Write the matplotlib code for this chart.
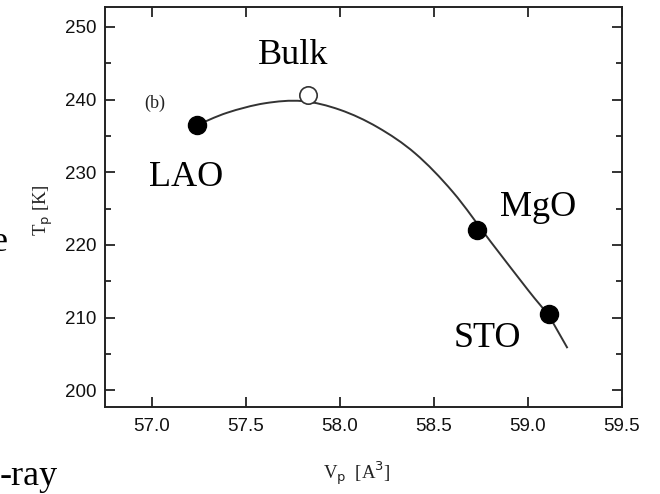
import matplotlib
matplotlib.use("Agg")
import matplotlib.pyplot as plt
from matplotlib.ticker import MultipleLocator
from matplotlib.path import Path
from matplotlib.patches import PathPatch

# Data
substrates = ["LAO", "MgO", "STO"]
film_vp = [57.24, 58.73, 59.11]
film_tp = [236.5, 222.1, 210.5]
bulk_vp = [57.83]
bulk_tp = [240.6]

# Guide curve
curve_vp = [57.24, 57.40, 57.60, 57.80, 58.00, 58.20, 58.40, 58.60, 58.80, 59.00, 59.11, 59.21]
curve_tp = [236.5, 238.2, 239.5, 239.8, 238.6, 236.2, 232.6, 227.3, 220.5, 213.8, 210.2, 205.8]

x_ticks = [57.0, 57.5, 58.0, 58.5, 59.0, 59.5]
y_ticks = [200, 210, 220, 230, 240, 250]

fig = plt.figure(figsize=(6.6, 4.94), dpi=100)
ax = fig.add_axes([105/660, 1 - 407/494, (622 - 105)/660, (407 - 7)/494])

# smooth guide curve drawn as Bezier segments through the read points
pts = list(zip(curve_vp, curve_tp))
verts = [pts[0]]
codes = [Path.MOVETO]
n = len(pts)
for i in range(n - 1):
    p0 = pts[i - 1] if i > 0 else pts[i]
    p1 = pts[i]
    p2 = pts[i + 1]
    p3 = pts[i + 2] if i + 2 < n else pts[i + 1]
    c1 = (p1[0] + (p2[0] - p0[0]) / 6, p1[1] + (p2[1] - p0[1]) / 6)
    c2 = (p2[0] - (p3[0] - p1[0]) / 6, p2[1] - (p3[1] - p1[1]) / 6)
    verts += [c1, c2, p2]
    codes += [Path.CURVE4] * 3
ax.add_patch(PathPatch(Path(verts, codes), fill=False, edgecolor="#333333", lw=1.4, zorder=2))

ax.plot(film_vp, film_tp, "o", ms=13, color="black", zorder=3)
ax.plot(bulk_vp, bulk_tp, "o", ms=12.5, mfc="white", mec="#333333", mew=1.2, zorder=3)

ax.set_xlim(56.75, 59.5)
ax.set_ylim(197.7, 252.75)
ax.set_xticks(x_ticks)
ax.set_yticks(y_ticks)
ax.yaxis.set_minor_locator(MultipleLocator(5))
ax.set_xticklabels([f"{v:.1f}" for v in x_ticks])
ax.set_yticklabels([str(v) for v in y_ticks])
ax.tick_params(axis="both", which="both", direction="in", top=True, right=True,
               labelsize=13.5, width=1.2, colors="#111111")
ax.tick_params(axis="both", which="major", length=7)
ax.tick_params(axis="both", which="minor", length=4)
for lab in ax.get_xticklabels() + ax.get_yticklabels():
    lab.set_family("Liberation Sans")
ax.tick_params(axis="x", pad=8)
ax.tick_params(axis="y", pad=6)
for s in ax.spines.values():
    s.set_linewidth(1.4)
    s.set_color("#222222")

serif = "Liberation Serif"
fig.text(293/660, 1 - 55/494, "Bulk", ha="center", va="center", fontsize=26, family=serif)
fig.text(186/660, 1 - 178/494, "LAO", ha="center", va="center", fontsize=26, family=serif)
fig.text(538/660, 1 - 207/494, "MgO", ha="center", va="center", fontsize=26, family=serif)
fig.text(487/660, 1 - 338/494, "STO", ha="center", va="center", fontsize=26, family=serif)
fig.text(155/660, 1 - 103/494, "(b)", ha="center", va="center", fontsize=13, family=serif,
         color="#222222")

# axis labels
fig.text(43/660, 1 - 210/494, r"T$_{\mathrm{p}}$ [K]", rotation=90, ha="center", va="center",
         fontsize=13.5, family=serif, color="#222222")
fig.text(357/660, 1 - 474/494, r"V$_{\mathrm{p}}$  [A$^{3}$]", ha="center", va="center",
         fontsize=13.5, family=serif, color="#222222")

# overlay fragments from surrounding slide text
fig.text(-0.012, 1 - 242/494, "e", ha="left", va="center", fontsize=26, family=serif)
fig.text(0.0, 1 - 476/494, "-ray", ha="left", va="center", fontsize=26, family=serif)

fig.savefig("out.png", dpi=100)
